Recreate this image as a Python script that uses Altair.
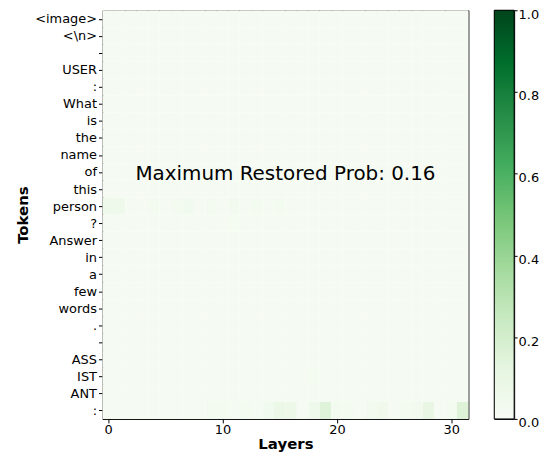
import json
import altair as alt
import pandas as pd

tokens = ["<image>", "<\\n>", "", "USER", ":", "What", "is", "the", "name", "of",
          "this", "person", "?", "Answer", "in", "a", "few", "words", ".", "",
          "ASS", "IST", "ANT", ":"]
n_layers = 32
background_level = 0.015

# rows that differ from the near-zero background (row index -> 32 layer values)
row_person = [0.06, 0.06, 0.015, 0.015, 0.03, 0.015, 0.03, 0.04, 0.015, 0.025,
              0.015, 0.035, 0.015, 0.025, 0.015, 0.03, 0.015, 0.015, 0.015, 0.015,
              0.015, 0.015, 0.015, 0.015, 0.015, 0.015, 0.015, 0.015, 0.015, 0.015,
              0.015, 0.015]
row_question = [0.015, 0.015, 0.015, 0.015, 0.015, 0.015, 0.015, 0.015, 0.015, 0.015,
                0.015, 0.022, 0.015, 0.015, 0.015, 0.015, 0.015, 0.015, 0.015, 0.015,
                0.015, 0.015, 0.015, 0.015, 0.015, 0.015, 0.015, 0.015, 0.015, 0.015,
                0.015, 0.015]
row_ist = [0.015, 0.015, 0.015, 0.015, 0.015, 0.015, 0.015, 0.015, 0.015, 0.015,
           0.015, 0.015, 0.015, 0.015, 0.015, 0.015, 0.015, 0.015, 0.022, 0.015,
           0.015, 0.015, 0.015, 0.015, 0.015, 0.015, 0.015, 0.015, 0.015, 0.015,
           0.015, 0.015]
row_last = [0.015, 0.015, 0.015, 0.015, 0.015, 0.015, 0.015, 0.015, 0.015, 0.025,
            0.025, 0.018, 0.025, 0.018, 0.04, 0.08, 0.07, 0.015, 0.06, 0.15,
            0.03, 0.03, 0.015, 0.035, 0.045, 0.015, 0.03, 0.035, 0.10, 0.015,
            0.03, 0.16]
special_rows = {11: row_person, 12: row_question, 21: row_ist, 23: row_last}
max_prob = 0.16

greens = ["#f7fcf5", "#e5f5e0", "#c7e9c0", "#a1d99b", "#74c476",
          "#41ab5d", "#238b45", "#006d2c", "#00441b"]
stops_dom = [i / 8 for i in range(9)]

records = []
for r in range(len(tokens)):
    vals = special_rows.get(r, [background_level] * n_layers)
    for c, v in enumerate(vals):
        records.append({"row": r, "layer": c, "lo": c - 0.5, "hi": c + 0.5,
                        "rlo": r - 0.5, "rhi": r + 0.5, "prob": v})
df = pd.DataFrame(records)

W, H = 368, 411
label_expr = "%s[datum.value]" % json.dumps(tokens)

heat = alt.Chart(df).mark_rect(strokeWidth=0).encode(
    x=alt.X("lo:Q", scale=alt.Scale(domain=[-0.5, 31.5], nice=False, zero=False),
            axis=alt.Axis(values=[0, 10, 20, 30], title="Layers", format="d",
                          labelPadding=1, titlePadding=0)),
    x2="hi:Q",
    y=alt.Y("rlo:Q", scale=alt.Scale(domain=[-0.5, 23.5], nice=False, zero=False, reverse=True),
            axis=alt.Axis(values=list(range(len(tokens))), labelExpr=label_expr,
                          title="Tokens", labelOverlap=False, labelPadding=2, titlePadding=4)),
    y2="rhi:Q",
    color=alt.Color("prob:Q", scale=alt.Scale(domain=stops_dom, range=greens, interpolate="rgb"),
                    legend=None),
)

txt = alt.Chart(pd.DataFrame({"t": ["Maximum Restored Prob: %.2f" % max_prob]})).mark_text(
    fontSize=20, font="DejaVu Sans", color="black", align="center", baseline="middle"
).encode(text="t:N", x=alt.value(W * 0.5), y=alt.value(H * 0.4))

main = alt.layer(heat, txt).properties(width=W, height=H)

grad = alt.Gradient(
    gradient="linear",
    stops=[alt.GradientStop(color=c, offset=o) for c, o in zip(greens, stops_dom)],
    x1=0, x2=0, y1=1, y2=0,
)
cbar = alt.Chart(pd.DataFrame({"lo": [0.0], "hi": [1.0]})).mark_rect(
    color=grad, stroke="black", strokeWidth=1
).encode(
    y=alt.Y("lo:Q", scale=alt.Scale(domain=[0, 1], nice=False),
            axis=alt.Axis(orient="right", values=[0, 0.2, 0.4, 0.6, 0.8, 1.0], format=".1f",
                          title=None, labelOffset=4, tickSize=3, labelPadding=1)),
    y2="hi:Q",
    x=alt.value(0), x2=alt.value(20),
).properties(width=20, height=H)

chart = alt.hconcat(main, cbar, spacing=24).properties(
    padding={"left": 7, "top": -2, "right": 0, "bottom": 0},
).configure_view(stroke="black", strokeWidth=1).configure_axis(
    grid=False, domain=False, tickColor="black", tickSize=4,
    labelFont="DejaVu Sans", labelFontSize=13, labelColor="black",
    titleFont="DejaVu Sans", titleFontSize=15, titleFontWeight="bold", titleColor="black",
).configure_concat(spacing=24)

chart.save("out.html", embed_options={"renderer": "svg", "actions": False})
